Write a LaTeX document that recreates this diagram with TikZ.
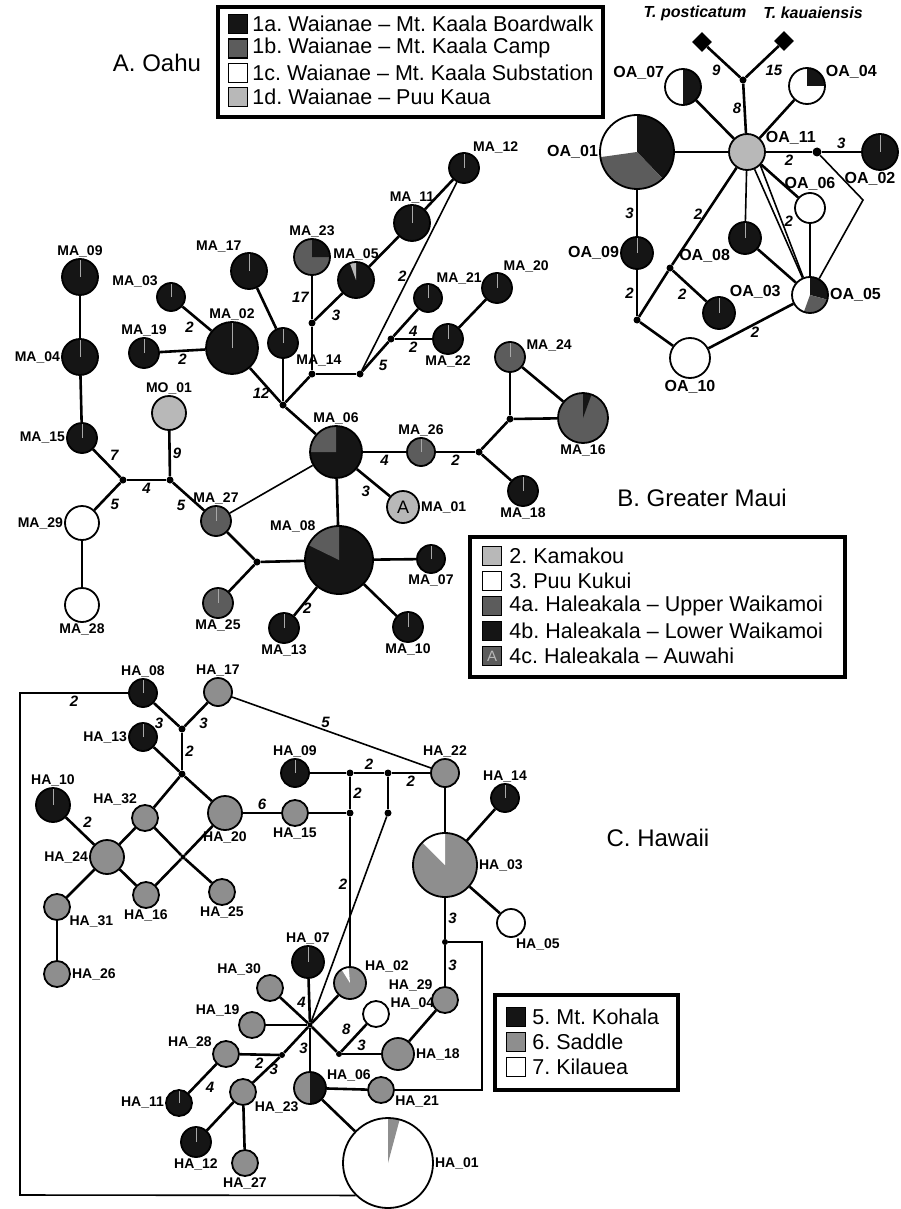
\documentclass[tikz,border=0pt]{standalone}
\usepackage{fontspec}
\setmainfont{Liberation Sans}
\frenchspacing
\usetikzlibrary{shapes,arrows,positioning}
\definecolor{blk}{HTML}{151515}
\definecolor{dgr}{HTML}{5C5C5C}
\definecolor{lgr}{HTML}{B8B8B8}
\definecolor{sdl}{HTML}{8E8E8E}
\definecolor{tck}{HTML}{A8A8A8}
\newcommand\legfont{\fontsize{21.5}{24}\selectfont}
\newcommand\ttlfont{\fontsize{24}{26}\selectfont}
\newcommand\labfont{\bfseries\fontsize{14}{14}\selectfont}
\newcommand\oafont{\bfseries\fontsize{16}{16}\selectfont}
\newcommand\wtfont{\bfseries\itshape\fontsize{15}{15}\selectfont}
\newcommand\spfont{\bfseries\itshape\fontsize{16}{16}\selectfont}
\newcommand\hapslice[3]{\fill[#1] (path picture bounding box.center) -- ++(#2:60pt) arc[start angle=#2, end angle=#3, radius=60pt] -- cycle;}
\tikzstyle{hap} = [draw, circle, line width=1.8pt, inner sep=0pt]
\tikzstyle{kb} = [hap, fill=blk, path picture={\draw[tck, line width=1pt] (path picture bounding box.center) -- (path picture bounding box.north);}]
\tikzstyle{dg} = [hap, fill=dgr, path picture={\draw[tck, line width=1pt] (path picture bounding box.center) -- (path picture bounding box.north);}]
\tikzstyle{lg} = [hap, fill=lgr]
\tikzstyle{sd} = [hap, fill=sdl]
\tikzstyle{wh} = [hap, fill=white]
\tikzstyle{mv} = [circle, fill=black, inner sep=0pt, minimum size=7pt]
\tikzstyle{outg} = [rectangle, fill=black, rotate=45, minimum size=14pt, inner sep=0pt]
\tikzstyle{lab} = [font=\labfont, inner sep=1pt]
\tikzstyle{olab} = [font=\oafont, inner sep=1pt]
\tikzstyle{wt} = [font=\wtfont, inner sep=2pt]
\tikzstyle{sp} = [font=\spfont]
\tikzstyle{link} = [line width=2.6pt]
\tikzstyle{slim} = [line width=1.6pt]
\tikzstyle{keybox} = [draw, line width=1.5pt, minimum width=19pt, minimum height=19pt, inner sep=0pt]
\tikzstyle{keytxt} = [font=\legfont, inner sep=0pt, anchor=west]
\tikzstyle{legframe} = [line width=4pt]
\tikzstyle{ttl} = [font=\ttlfont]

\begin{document}
\begin{tikzpicture}[x=1pt, y=-1pt]
\useasboundingbox (0,0) rectangle (900,1209);
\node[ttl] (tOahu) at (157,63) {A. Oahu};
\node[ttl] (tMaui) at (702,498) {B. Greater Maui};
\node[ttl] (tHaw) at (658,838) {C. Hawaii};

\draw[legframe] (218,7) rectangle (603,117);
\foreach \col/\txt [count=\i] in {blk/1a. Waianae – Mt. Kaala Boardwalk, dgr/1b. Waianae – Mt. Kaala Camp, white/1c. Waianae – Mt. Kaala Substation, lgr/1d. Waianae – Puu Kaua} {
  \node[keybox, fill=\col] (ka\i) at (238,{24+24.4*(\i-1)}) {};
  \node[keytxt, right=4pt of ka\i] (ta\i) {\txt};
}
\draw[legframe] (470,537) rectangle (845,677);
\foreach \col/\ltr/\txt [count=\i] in {lgr//2. Kamakou, white//3. Puu Kukui, dgr//4a. Haleakala – Upper Waikamoi, blk//4b. Haleakala – Lower Waikamoi, dgr/A/4c. Haleakala – Auwahi} {
  \node[keybox, fill=\col, text=lgr, font=\fontsize{15}{15}\selectfont] (kb\i) at (492,{556+25*(\i-1)}) {\ltr};
  \node[keytxt, right=7pt of kb\i] (tb\i) {\txt};
}
\draw[legframe] (495,995) rectangle (678,1090);
\foreach \col/\txt [count=\i] in {blk/5. Mt. Kohala, sdl/6. Saddle, white/7. Kilauea} {
  \node[keybox, fill=\col] (kc\i) at (516,{1017+25*(\i-1)}) {};
  \node[keytxt, right=6pt of kc\i] (tc\i) {\txt};
}

\node[sp] (ttp) at (695,13) {T. posticatum};
\node[sp] (ttk) at (813,13) {T. kauaiensis};
\node[outg] (dtp) at (702,42) {};
\node[outg] (dtk) at (784,41) {};
\node[mv] (jo1) at (743,80) {};
\node[lg, minimum size=36pt, label={[olab]20:OA\_11}] (OA11) at (747,152) {};
\node[wh, minimum size=36pt, path picture={\hapslice{blk}{-90}{90}}, label={[olab]160:OA\_07}] (OA07) at (683,87) {};
\node[wh, minimum size=36pt, path picture={\hapslice{blk}{0}{90}}, label={[olab]20:OA\_04}] (OA04) at (807,86) {};
\node[wh, minimum size=74pt, path picture={\hapslice{blk}{-46}{90}\hapslice{dgr}{188}{314}}, label={[olab]left:OA\_01}] (OA01) at (637,152) {};
\node[mv, minimum size=9pt] (jo2) at (817,152) {};
\node[kb, minimum size=36pt, label={[olab,xshift=-10pt]below:OA\_02}] (OA02) at (880,152) {};
\node[wh, minimum size=30pt, label={[olab]above:OA\_06}] (OA06) at (810,208) {};
\node[kb, minimum size=32pt, label={[olab]left:OA\_09}] (OA09) at (637,253) {};
\node[kb, minimum size=32pt, label={[olab]215:OA\_08}] (OA08) at (745,238) {};
\node[mv] (jo3) at (670,268) {};
\node[mv] (jo4) at (637,320) {};
\node[kb, minimum size=32pt, label={[olab]55:OA\_03}] (OA03) at (719,313) {};
\node[wh, minimum size=36pt, path picture={\hapslice{blk}{-15}{90}\hapslice{dgr}{250}{345}}, label={[olab]right:OA\_05}] (OA05) at (810,295) {};
\node[wh, minimum size=40pt, label={[olab]below:OA\_10}] (OA10) at (690,358) {};
\coordinate (oc) at (863,200);

\draw[link] (dtp) -- node[wt,below left]{9} (jo1);
\draw[link] (dtk) -- node[wt,below right]{15} (jo1);
\draw[link] (jo1) -- node[wt,left]{8} (OA11);
\draw[link] (OA11) -- (OA07);
\draw[link] (OA11) -- (OA04);
\draw[link] (OA11) -- (OA01);
\draw[link] (OA11) -- node[wt,below]{2} (jo2);
\draw[link] (jo2) -- node[wt,above]{3} (OA02);
\draw[slim] (jo2) -- (oc) -- (OA05);
\draw[link] (OA11) -- (OA06);
\draw[slim] (OA06) -- (OA05);
\draw[slim] (OA11) -- (OA08);
\draw[link] (OA08) -- (OA05);
\draw[slim] (OA11) -- (OA05);
\draw[slim] (OA11.-45) -- node[wt,right]{2} (OA05);
\draw[link] (OA11) -- node[wt,left,pos=.48]{2} (jo3);
\draw[link] (OA01) -- node[wt,left]{3} (OA09);
\draw[link] (OA09) -- node[wt,left]{2} (jo4);
\draw[link] (jo4) -- (jo3);
\draw[link] (jo3) -- node[wt,below left]{2} (OA03);
\draw[link] (jo4) -- (OA10);
\draw[link] (OA10) -- node[wt,below,pos=.55]{2} (OA05);

\node[kb, minimum size=36pt, label={[lab]above:MA\_09}] (MA09) at (80,277) {};
\node[kb, minimum size=36pt, label={[lab]left:MA\_04}] (MA04) at (80,357) {};
\node[kb, minimum size=30pt, label={[lab]left:MA\_15}] (MA15) at (82,438) {};
\node[kb, minimum size=28pt, label={[lab]145:MA\_03}] (MA03) at (171,297) {};
\node[kb, minimum size=30pt, label={[lab]above:MA\_19}] (MA19) at (144,353) {};
\node[kb, minimum size=52pt, label={[lab]above:MA\_02}] (MA02) at (232,348) {};
\node[kb, minimum size=36pt, label={[lab]110:MA\_17}] (MA17) at (249,271) {};
\node[kb, minimum size=30pt, label={[lab]-40:MA\_14}] (MA14) at (283,343) {};
\node[hap, fill=dgr, minimum size=36pt, path picture={\hapslice{blk}{0}{90}}, label={[lab]above:MA\_23}] (MA23) at (312,257) {};
\node[hap, fill=blk, minimum size=36pt, path picture={\hapslice{lgr}{90}{110}}, label={[lab]above:MA\_05}] (MA05) at (356,280) {};
\node[kb, minimum size=36pt, label={[lab]above:MA\_11}] (MA11) at (412,223) {};
\node[kb, minimum size=30pt, label={[lab]60:MA\_12}] (MA12) at (464,168) {};
\node[kb, minimum size=28pt, label={[lab]60:MA\_21}] (MA21) at (428,298) {};
\node[kb, minimum size=30pt, label={[lab]70:MA\_20}] (MA20) at (497,288) {};
\node[kb, minimum size=30pt, label={[lab]below:MA\_22}] (MA22) at (448,339) {};
\node[dg, minimum size=30pt, label={[lab]15:MA\_24}] (MA24) at (510,357) {};
\node[hap, fill=dgr, minimum size=50pt, path picture={\hapslice{blk}{70}{90}}, label={[lab]below:MA\_16}] (MA16) at (583,418) {};
\node[lg, minimum size=34pt, label={[lab]above:MO\_01}] (MO01) at (169,413) {};
\node[wh, minimum size=34pt, label={[lab]left:MA\_29}] (MA29) at (82,523) {};
\node[wh, minimum size=34pt, label={[lab]below:MA\_28}] (MA28) at (82,605) {};
\node[dg, minimum size=30pt, label={[lab]above:MA\_27}] (MA27) at (216,521) {};
\node[dg, minimum size=30pt, label={[lab]below:MA\_25}] (MA25) at (218,603) {};
\node[hap, fill=blk, minimum size=52pt, path picture={\hapslice{dgr}{90}{180}}, label={[lab]above:MA\_06}] (MA06) at (336,452) {};
\node[dg, minimum size=28pt, label={[lab]above:MA\_26}] (MA26) at (421,452) {};
\node[lg, minimum size=32pt, font=\fontsize{18}{18}\selectfont, label={[lab]right:MA\_01}] (MA01) at (403,507) {A};
\node[kb, minimum size=30pt, label={[lab]below:MA\_18}] (MA18) at (523,491) {};
\node[hap, fill=blk, minimum size=68pt, path picture={\hapslice{dgr}{90}{154}}, label={[lab]130:MA\_08}] (MA08) at (339,560) {};
\node[kb, minimum size=28pt, label={[lab]below:MA\_07}] (MA07) at (431,559) {};
\node[kb, minimum size=30pt, label={[lab]below:MA\_13}] (MA13) at (284,628) {};
\node[kb, minimum size=30pt, label={[lab]below:MA\_10}] (MA10) at (408,627) {};
\node[mv] (m1) at (312,323) {};
\node[mv] (m2) at (312,374) {};
\node[mv] (m3) at (360,374) {};
\node[mv] (m4) at (391,339) {};
\node[mv] (m5) at (283,405) {};
\node[mv] (m6) at (123,480) {};
\node[mv] (m7) at (170,480) {};
\node[mv] (m8) at (257,562) {};
\node[mv] (m9) at (479,452) {};
\node[mv] (m10) at (510,419) {};

\draw[link] (MA09) -- (MA04);
\draw[link] (MA04) -- (MA15);
\draw[link] (MA15) -- node[wt,above right]{7} (m6);
\draw[link] (m6) -- node[wt,below]{4} (m7);
\draw[link] (m6) -- node[wt,below right]{5} (MA29);
\draw[link] (m7) -- node[wt,right]{9} (MO01);
\draw[link] (m7) -- node[wt,below left]{5} (MA27);
\draw[link] (MA29) -- (MA28);
\draw[link] (MA27) -- (m8);
\draw[link] (m8) -- (MA25);
\draw[link] (m8) -- (MA08);
\draw[slim] (MA27) -- (MA06);
\draw[link] (MA03) -- node[wt,below left]{2} (MA02);
\draw[link] (MA19) -- node[wt,below]{2} (MA02);
\draw[link] (MA02) -- node[wt,left,pos=.75]{12} (m5);
\draw[link] (MA17) -- (MA14);
\draw[link] (MA14) -- (m5);
\draw[link] (m2) -- (m5);
\draw[link] (m5) -- (MA06);
\draw[link] (MA23) -- node[wt,left]{17} (m1);
\draw[link] (m1) -- node[wt,below right]{3} (MA05);
\draw[link] (MA05) -- (MA11);
\draw[link] (MA11) -- (MA12);
\draw[link] (m1) -- (m2);
\draw[link] (m2) -- (m3);
\draw[slim] (m3) -- node[wt,left]{2} (MA12);
\draw[link] (m3) -- node[wt,below right]{5} (m4);
\draw[link] (m4) -- node[wt,below right]{4} (MA21);
\draw[link] (m4) -- node[wt,below]{2} (MA22);
\draw[link] (MA22) -- (MA20);
\draw[link] (MA06) -- node[wt,below]{4} (MA26);
\draw[link] (MA26) -- node[wt,below]{2} (m9);
\draw[link] (m9) -- (m10);
\draw[link] (m9) -- (MA18);
\draw[link] (MA24) -- (m10);
\draw[link] (MA24) -- (MA16);
\draw[link] (m10) -- (MA16);
\draw[link] (MA06) -- node[wt,below left]{3} (MA01);
\draw[link] (MA06) -- (MA08);
\draw[link] (MA08) -- (MA07);
\draw[link] (MA08) -- node[wt,right,pos=.75]{2} (MA13);
\draw[link] (MA08) -- (MA10);

\node[kb, minimum size=28pt, label={[lab]above:HA\_08}] (HA08) at (143,693) {};
\node[sd, minimum size=28pt, label={[lab]above:HA\_17}] (HA17) at (218,692) {};
\node[mv] (h1) at (182,729) {};
\node[kb, minimum size=28pt, label={[lab]left:HA\_13}] (HA13) at (143,737) {};
\node[mv] (h2) at (182,774) {};
\node[kb, minimum size=34pt, label={[lab]above:HA\_10}] (HA10) at (53,805) {};
\node[sd, minimum size=26pt, label={[lab]120:HA\_32}] (HA32) at (145,818) {};
\node[sd, minimum size=34pt, label={[lab]below:HA\_20}] (HA20) at (225,813) {};
\node[sd, minimum size=26pt, label={[lab]below:HA\_15}] (HA15) at (295,813) {};
\node[sd, minimum size=34pt, label={[lab]left:HA\_24}] (HA24) at (107,857) {};
\node[mv, minimum size=5pt] (h3) at (183,857) {};
\node[sd, minimum size=26pt, label={[lab]below:HA\_16}] (HA16) at (146,895) {};
\node[sd, minimum size=26pt, label={[lab]below:HA\_25}] (HA25) at (222,892) {};
\node[sd, minimum size=26pt, label={[lab]-35:HA\_31}] (HA31) at (57,907) {};
\node[sd, minimum size=26pt, label={[lab]right:HA\_26}] (HA26) at (57,974) {};
\node[kb, minimum size=28pt, label={[lab]above:HA\_09}] (HA09) at (295,773) {};
\node[mv] (h4) at (350,773) {};
\node[mv] (h5) at (388,773) {};
\node[mv] (h6) at (350,813) {};
\node[mv] (h7) at (388,813) {};
\node[sd, minimum size=28pt, label={[lab]above:HA\_22}] (HA22) at (445,773) {};
\node[hap, fill=sdl, minimum size=64pt, path picture={\hapslice{white}{90}{135}}, label={[lab]right:HA\_03}] (HA03) at (445,865) {};
\node[kb, minimum size=28pt, label={[lab]above:HA\_14}] (HA14) at (505,798) {};
\node[wh, minimum size=28pt, label={[lab]-75:HA\_05}] (HA05) at (511,923) {};
\node[mv, minimum size=6pt] (h10) at (445,942) {};
\node[sd, minimum size=26pt, label={[lab]145:HA\_29}] (HA29) at (445,1000) {};
\node[sd, minimum size=32pt, label={[lab]right:HA\_18}] (HA18) at (398,1054) {};
\node[mv, minimum size=6pt] (h9) at (339,1054) {};
\node[wh, minimum size=26pt, label={[lab]15:HA\_04}] (HA04) at (376,1014) {};
\node[mv, minimum size=5pt] (h8) at (310,1025) {};
\node[kb, minimum size=32pt, label={[lab]above:HA\_07}] (HA07) at (308,962) {};
\node[sd, minimum size=26pt, label={[lab]125:HA\_30}] (HA30) at (270,988) {};
\node[sd, minimum size=26pt, label={[lab]145:HA\_19}] (HA19) at (252,1025) {};
\node[hap, fill=sdl, minimum size=32pt, path picture={\hapslice{white}{95}{122}}, label={[lab]35:HA\_02}] (HA02) at (350,983) {};
\node[hap, fill=sdl, minimum size=32pt, path picture={\hapslice{blk}{-90}{90}}, label={[lab]20:HA\_06}] (HA06) at (310,1088) {};
\node[sd, minimum size=26pt, label={[lab]-20:HA\_21}] (HA21) at (381,1090) {};
\node[wh, minimum size=90pt, path picture={\hapslice{sdl}{75}{90}}, label={[lab]right:HA\_01}] (HA01) at (388,1163) {};
\node[mv, minimum size=6pt] (h11) at (282,1055) {};
\node[sd, minimum size=26pt, label={[lab]160:HA\_28}] (HA28) at (226,1054) {};
\node[sd, minimum size=26pt, label={[lab]-40:HA\_23}] (HA23) at (243,1092) {};
\node[kb, minimum size=26pt, label={[lab]left:HA\_11}] (HA11) at (179,1103) {};
\node[kb, minimum size=30pt, label={[lab]below:HA\_12}] (HA12) at (196,1142) {};
\node[sd, minimum size=26pt, label={[lab]below:HA\_27}] (HA27) at (245,1163) {};
\coordinate (lpA) at (20,693);
\coordinate (lpB) at (20,1195);
\coordinate (bxA) at (482,942);
\coordinate (bxB) at (482,1090);

\draw[link] (HA08) -- node[wt,below left]{3} (h1);
\draw[link] (HA17) -- node[wt,below right]{3} (h1);
\draw[link] (h1) -- node[wt,right]{2} (h2);
\draw[link] (HA13) -- (h2);
\draw[link] (h2) -- (HA32);
\draw[link] (h2) -- (HA20);
\draw[link] (HA32) -- (HA24);
\draw[link] (HA24) -- (HA16);
\draw[link] (HA32) -- (h3);
\draw[link] (HA20) -- (h3);
\draw[link] (h3) -- (HA16);
\draw[link] (h3) -- (HA25);
\draw[link] (HA10) -- node[wt,above right]{2} (HA24);
\draw[link] (HA24) -- (HA31);
\draw[slim] (HA31) -- (HA26);
\draw[link] (HA20) -- node[wt,above]{6} (HA15);
\draw[link] (HA15) -- (h6);
\draw[slim] (HA17) -- node[wt,above,pos=.47]{5} (HA22);
\draw[link] (HA09) -- (h4);
\draw[link] (h4) -- node[wt,above]{2} (h5);
\draw[link] (h5) -- node[wt,below]{2} (HA22);
\draw[link] (h4) -- node[wt,right]{2} (h6);
\draw[link] (h5) -- (h7);
\draw[slim] (h6) -- node[wt,left,pos=.45]{2} (HA02);
\draw[slim] (h7) -- (h8);
\draw[link] (HA22) -- (HA03);
\draw[link] (HA03) -- (HA14);
\draw[link] (HA03) -- (HA05);
\draw[link] (HA03) -- node[wt,right]{3} (h10);
\draw[link] (h10) -- node[wt,right]{3} (HA29);
\draw[slim] (h10) -- (bxA) -- (bxB) -- (HA21);
\draw[link] (HA21) -- (HA06);
\draw[link] (HA29) -- (HA18);
\draw[link] (HA18) -- node[wt,above]{3} (h9);
\draw[link] (h9) -- node[wt,above left]{8} (HA04);
\draw[link] (h8) -- (h9);
\draw[link] (h8) -- (HA07);
\draw[link] (h8) -- node[wt,above right]{4} (HA30);
\draw[link] (h8) -- (HA19);
\draw[link] (h8) -- (HA02);
\draw[link] (h8) -- (HA06);
\draw[link] (h8) -- node[wt,below right]{3} (h11);
\draw[link] (h11) -- node[wt,below]{2} (HA28);
\draw[link] (h11) -- node[wt,right]{3} (HA23);
\draw[link] (HA28) -- node[wt,below right]{4} (HA11);
\draw[link] (HA23) -- (HA12);
\draw[link] (HA23) -- (HA27);
\draw[link] (HA06) -- (HA01);
\draw[slim] (HA08) -- node[wt,below]{2} (lpA) -- (lpB) -- (HA01.south west);
\end{tikzpicture}
\end{document}
